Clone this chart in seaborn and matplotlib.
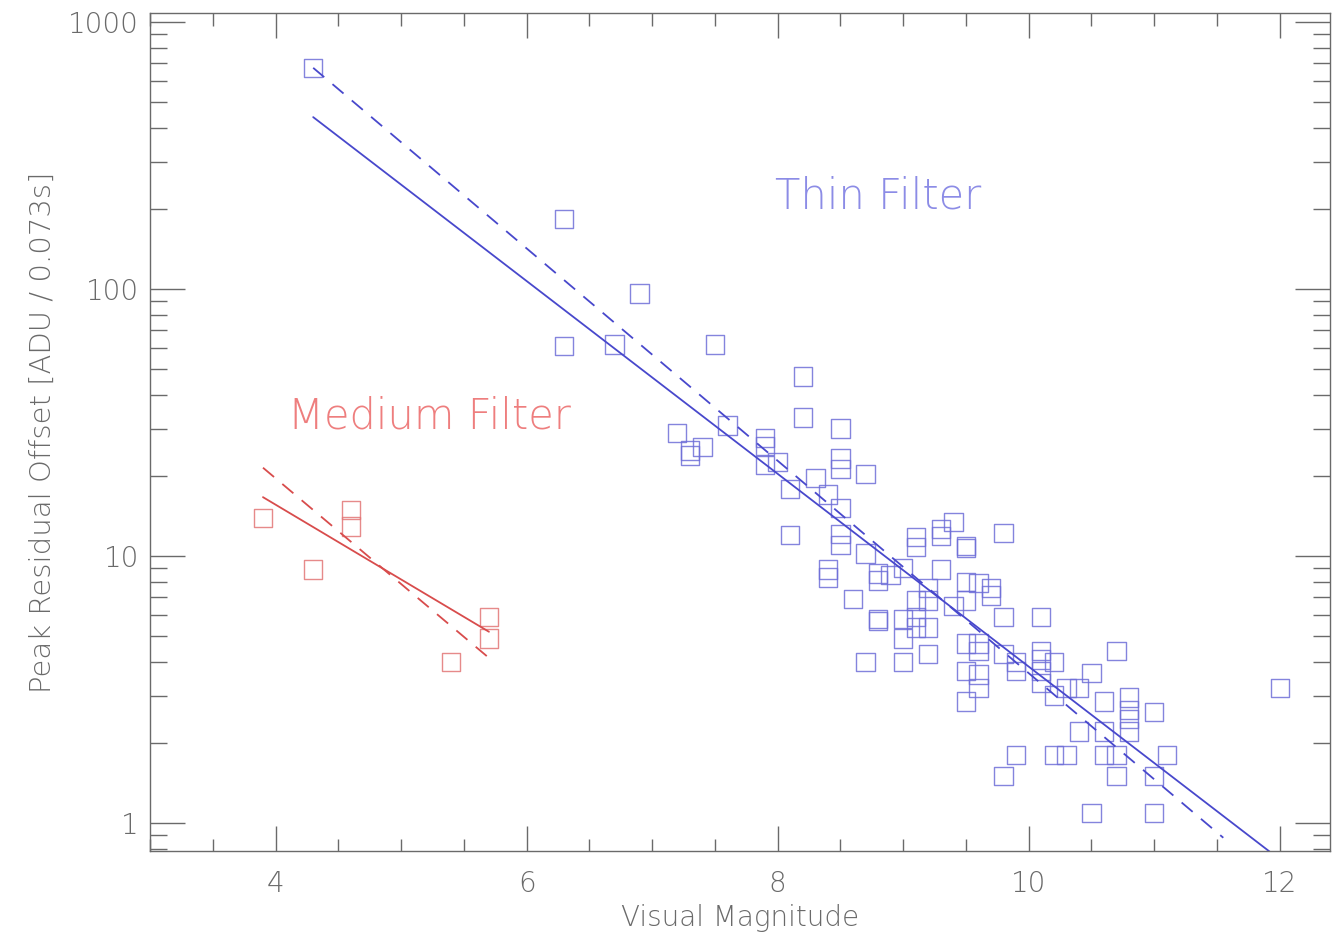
import matplotlib
matplotlib.use("Agg")
import matplotlib.pyplot as plt
import matplotlib.ticker as mticker
import numpy as np
import pandas as pd
import seaborn as sns

# Thin filter stars: visual magnitude vs peak residual offset
thin_mag = [4.3, 6.3, 6.3, 6.9, 6.7, 7.5, 7.2, 7.3, 7.3, 7.4, 7.6, 7.9, 7.9, 7.9, 8.0,
            8.2, 8.2, 8.1, 8.1, 8.5, 8.5, 8.5, 8.5, 8.5, 8.5, 8.7, 8.3, 8.4, 8.4, 8.4,
            8.7, 8.6, 8.8, 8.8, 8.9, 9.0, 9.1, 9.1, 9.3, 9.4, 9.3, 9.5, 9.5, 9.8, 9.3,
            9.2, 9.5, 9.6, 9.7, 9.7, 9.1, 9.2, 9.4, 9.5, 9.8, 10.1, 8.8, 8.8, 9.0, 9.1,
            9.1, 9.2, 9.5, 9.6, 9.6, 9.0, 9.2, 8.7, 9.0, 9.5, 9.6, 9.8, 9.9, 9.9, 10.1,
            10.1, 10.1, 10.2, 9.6, 9.5, 10.1, 10.2, 10.3, 10.4, 10.5, 10.7, 10.6, 10.8, 10.8, 10.8,
            10.8, 11.0, 10.4, 10.6, 12.0, 9.9, 9.8, 10.2, 10.3, 10.6, 10.7, 10.7, 11.1, 11.0, 10.5,
            11.0]
thin_peak = [673, 183, 61, 96, 62, 62, 28.9, 24.8, 23.8, 25.6, 30.8, 27.7, 25.8, 21.9, 22.5,
             47, 33, 17.8, 12.0, 30, 23.2, 21.2, 15.1, 12.1, 11.0, 20.3, 19.6, 17.0, 8.9, 8.3,
             10.2, 6.9, 8.6, 8.1, 8.5, 9.0, 11.8, 10.8, 12.6, 13.4, 11.9, 10.9, 10.7, 12.2, 8.9,
             7.6, 8.0, 7.9, 7.6, 7.1, 6.8, 6.8, 6.5, 6.8, 5.9, 5.9, 5.8, 5.7, 5.8, 5.9,
             5.4, 5.4, 4.7, 4.7, 4.4, 4.9, 4.3, 4.0, 4.0, 3.7, 3.6, 4.3, 4.0, 3.7, 4.4,
             4.1, 3.7, 4.0, 3.2, 2.85, 3.35, 3.0, 3.2, 3.2, 3.65, 4.4, 2.85, 2.95, 2.65, 2.45,
             2.2, 2.6, 2.2, 2.2, 3.2, 1.8, 1.5, 1.8, 1.8, 1.8, 1.8, 1.5, 1.8, 1.5, 1.09,
             1.09]

# Medium filter stars
medium_mag = [3.9, 4.6, 4.6, 4.3, 5.7, 5.7, 5.4]
medium_peak = [13.9, 14.9, 12.9, 8.9, 5.9, 4.9, 4.0]

# Fitted trends (end points): free slope (solid) and fixed -0.4 slope (dashed)
thin_fit_mag = [4.3, 12.0]
thin_fit_peak = [440, 0.73]
thin_fixed_mag = [4.3, 11.55]
thin_fixed_peak = [673, 0.88]
medium_fit_mag = [3.9, 5.7]
medium_fit_peak = [16.6, 5.2]
medium_fixed_mag = [3.9, 5.7]
medium_fixed_peak = [21.4, 4.15]

BLUE_PT = "#6e6ed8"
BLUE_LN = "#4848cc"
BLUE_TX = "#8c8ce6"
RED_PT = "#e27676"
RED_LN = "#d84c4c"
RED_TX = "#ee7e7e"
GREY = "#6a6a6a"

sns.set_theme(style="ticks")
plt.rcParams["font.family"] = ["DejaVu Sans"]
plt.rcParams["font.weight"] = "light"
plt.rcParams["axes.labelweight"] = "light"

fig = plt.figure(figsize=(13.32, 9.38), dpi=100)
ax = fig.add_axes([150 / 1332, 87 / 938, 1180 / 1332, 838 / 938])
ax.set_yscale("log")

thin_df = pd.DataFrame({"mag": thin_mag, "peak": thin_peak})
med_df = pd.DataFrame({"mag": medium_mag, "peak": medium_peak})

sns.scatterplot(data=thin_df, x="mag", y="peak", ax=ax, marker="s", s=175,
                facecolor="none", edgecolor=BLUE_PT, linewidth=1.0, alpha=0.85)
sns.scatterplot(data=med_df, x="mag", y="peak", ax=ax, marker="s", s=175,
                facecolor="none", edgecolor=RED_PT, linewidth=1.0, alpha=0.85)

sns.lineplot(x=thin_fit_mag, y=thin_fit_peak, ax=ax, color=BLUE_LN, lw=1.3)
sns.lineplot(x=thin_fixed_mag, y=thin_fixed_peak, ax=ax, color=BLUE_LN, lw=1.3,
             dashes=False, linestyle=(0, (8, 6)))
sns.lineplot(x=medium_fit_mag, y=medium_fit_peak, ax=ax, color=RED_LN, lw=1.3)
sns.lineplot(x=medium_fixed_mag, y=medium_fixed_peak, ax=ax, color=RED_LN, lw=1.3,
             dashes=False, linestyle=(0, (8, 6)))

ax.text(7.98, 223, "Thin Filter", color=BLUE_TX, fontsize=30, va="center", ha="left",
        fontweight="light")
ax.text(4.1, 33.5, "Medium Filter", color=RED_TX, fontsize=30, va="center", ha="left",
        fontweight="light")

ax.set_xlim(3.0, 12.4)
ax.set_ylim(0.785, 1080)

ax.xaxis.set_major_locator(mticker.MultipleLocator(2))
ax.xaxis.set_minor_locator(mticker.MultipleLocator(0.5))
ax.yaxis.set_major_locator(mticker.LogLocator(base=10, numticks=10))
ax.yaxis.set_minor_locator(mticker.LogLocator(base=10, subs=np.arange(2, 10), numticks=20))
ax.yaxis.set_major_formatter(mticker.FuncFormatter(lambda v, p: f"{v:g}"))
ax.yaxis.set_minor_formatter(mticker.NullFormatter())

ax.tick_params(which="both", direction="in", top=True, right=True, color=GREY,
               labelcolor=GREY, labelsize=20, width=1.0)
ax.tick_params(axis="x", which="major", length=18, pad=14)
ax.tick_params(axis="x", which="minor", length=9)
ax.tick_params(axis="y", which="major", length=25, pad=8)
ax.tick_params(axis="y", which="minor", length=12)

for sp in ax.spines.values():
    sp.set_color(GREY)
    sp.set_linewidth(1.0)

ax.set_xlabel("Visual Magnitude", color=GREY, fontsize=20, labelpad=4,
              fontweight="light")
ax.set_ylabel("Peak Residual Offset [ADU / 0.073s]", color=GREY, fontsize=21,
              labelpad=8, fontweight="light")

fig.savefig("out.png", dpi=100, facecolor="white")
